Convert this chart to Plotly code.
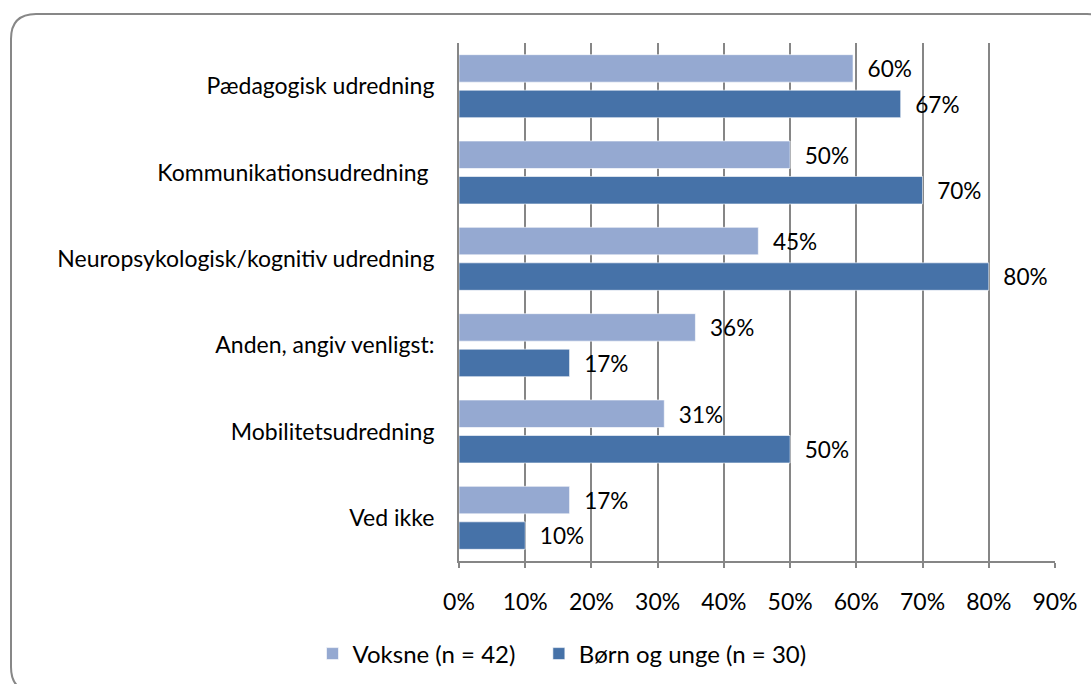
import plotly.graph_objects as go

categories = [
    "Pædagogisk udredning",
    "Kommunikationsudredning\u00a0",
    "Neuropsykologisk/kognitiv udredning",
    "Anden, angiv venligst:",
    "Mobilitetsudredning",
    "Ved ikke",
]
voksne = [0.595, 0.500, 0.452, 0.357, 0.310, 0.167]
boern = [0.667, 0.700, 0.800, 0.167, 0.500, 0.100]
series_names = ["Voksne (n = 42)\u00a0\u00a0\u00a0", "Børn og unge (n = 30)"]
x_ticks = [0, 0.1, 0.2, 0.3, 0.4, 0.5, 0.6, 0.7, 0.8, 0.9]
x_ticklabels = ["0%", "10%", "20%", "30%", "40%", "50%", "60%", "70%", "80%", "90%"]

W, H = 1091, 684
L, R, T, B = 459, 1055, 43, 561
FONT = "Lato"
FS = 23

def px(xp):
    return (xp - L) / (R - L)

def py(yp):
    return (B - yp) / (B - T)

fig = go.Figure()
for vals, name, col in [(voksne, series_names[0], "#95A9D1"), (boern, series_names[1], "#4672A8")]:
    fig.add_trace(go.Bar(
        y=categories, x=vals, name=name, orientation="h",
        marker=dict(color=col, line=dict(color="rgba(255,255,255,0.6)", width=1)),
        text=[f"\u00a0\u00a0{round(v*100)}%" for v in vals],
        textposition="outside", cliponaxis=False,
        textfont=dict(family=FONT, size=FS, color="#000000"),
    ))

# rounded border
x0, y0, x1, y1, r = 11, 14, 1112, 692, 25
path = (f"M {px(x0+r)} {py(y0)} L {px(x1-r)} {py(y0)} Q {px(x1)} {py(y0)} {px(x1)} {py(y0+r)} "
        f"L {px(x1)} {py(y1-r)} Q {px(x1)} {py(y1)} {px(x1-r)} {py(y1)} "
        f"L {px(x0+r)} {py(y1)} Q {px(x0)} {py(y1)} {px(x0)} {py(y1-r)} "
        f"L {px(x0)} {py(y0+r)} Q {px(x0)} {py(y0)} {px(x0+r)} {py(y0)} Z")
fig.add_shape(type="path", path=path, xref="paper", yref="paper",
              line=dict(color="#878787", width=2), layer="below")

fig.update_layout(
    template="none",
    width=W, height=H,
    margin=dict(l=L, r=W - R, t=T, b=H - B, autoexpand=False),
    barmode="group", bargap=0.178, bargroupgap=0.225,
    plot_bgcolor="white", paper_bgcolor="white",
    font=dict(family=FONT, size=FS, color="#000000"),
    showlegend=True,
    legend=dict(orientation="h", x=px(562), xanchor="center", y=py(654), yanchor="middle",
                font=dict(family=FONT, size=24), itemwidth=30, traceorder="normal"),
    xaxis=dict(range=[0, 0.9], tickvals=x_ticks, ticktext=x_ticklabels, automargin=False,
               showgrid=True, gridcolor="#868686", gridwidth=2,
               showline=True, linecolor="#868686", linewidth=2, mirror=False,
               ticks="outside", ticklen=5, tickcolor="#868686", tickwidth=2,
               ticklabelstandoff=14, zeroline=False, fixedrange=True),
    yaxis=dict(autorange="reversed", showline=True, linecolor="#868686", linewidth=2,
               automargin=False, showgrid=False, ticks="", ticklabelstandoff=18,
               fixedrange=True),
)

fig.write_html("out.html", config={"displayModeBar": False},
               post_script="document.body.style.margin='0';document.body.style.overflow='hidden';")
